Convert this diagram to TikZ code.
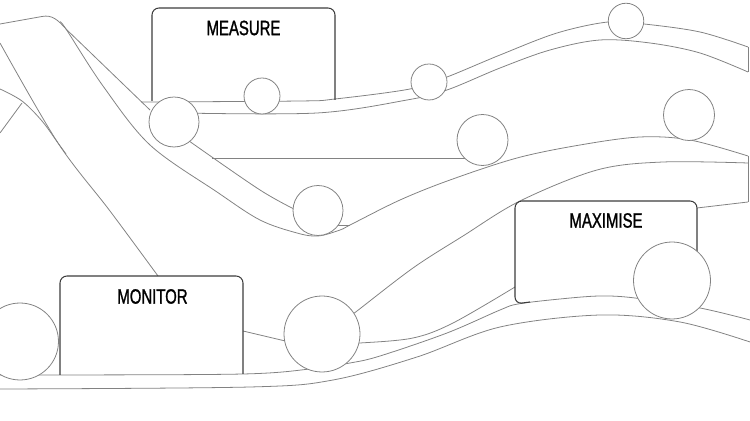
\documentclass[tikz,border=0pt]{standalone}
\usepackage{fontspec}
\newfontfamily\labelfont{Liberation Sans}[FakeStretch=0.72, FakeBold=1.2]
\definecolor{RoadGray}{RGB}{130, 130, 130}
\definecolor{FrameGray}{RGB}{60, 60, 60}

\begin{document}
\begin{tikzpicture}[x=0.02cm, y=-0.02cm,
    road/.style={draw=RoadGray, line width=0.45pt},
    smoothroad/.style={road, smooth, tension=0.55},
    frame/.style={draw=FrameGray, line width=0.6pt, rounded corners=0.14cm},
    ball/.style={circle, draw=RoadGray, line width=0.45pt, fill=white, inner sep=0pt},
    tag/.style={font=\labelfont\fontsize{11.8}{13}\selectfont, text=black, inner sep=0pt}]
    \useasboundingbox (0,0) rectangle (750,421);
    \clip (0,0) rectangle (750,421);

    % strokes on the left
    \draw[smoothroad] plot coordinates {(0,43) (58,143) (110,211) (158,276)};
    \draw[smoothroad] plot coordinates {(0,89) (22,101) (42,121) (58,143) (66,154)};
    \draw[road] (0,133) -- (22,103);

    % top ribbon
    \draw[road] (0,24) -- (42,16.5) .. controls (52,14.5) and (58,20) .. (66,29) -- (150,110);
    \draw[smoothroad] plot coordinates {(141,102) (300,101) (335,99) (410,89) (447,77) (500,55)
        (557,33) (608,22) (644,24) (700,32) (748,47)};
    \draw[smoothroad] plot coordinates {(180,113) (317,113) (407,100) (447,90) (500,68)
        (550,50) (600,40) (650,43) (700,53) (748,72)};
    \draw[road] (748,47) -- (748,72);

    % long ramp down to the valley and up again
    \draw[smoothroad] plot coordinates {(60,22) (66,29) (103,86) (150,145) (217,192) (260,220)
        (297,233) (318,236) (340,230) (352,224) (400,200) (450,180) (517,158) (580,145)
        (640,137) (690,140) (748,156)};
    \draw[smoothroad] plot coordinates {(182,136) (260,190) (302,213)};
    \draw[road] (212,158) -- (470,158);
    \draw[road] (325,225) -- (350,225);
    \draw[road] (748,156) -- (748,202);
    \draw[road] (697,208) -- (748,202);
    \draw[smoothroad] plot coordinates {(336,327) (357,311) (413,268) (463,236) (520,201)
        (597,170) (663,162) (748,163)};

    % lower ribbons
    \draw[road] (243,331) -- (298,344);
    \draw[smoothroad] plot coordinates {(340,343) (360,343) (413,338) (453,323) (515,287)};
    \draw[smoothroad] plot coordinates {(0,375) (60,375) (243,374) (310,369) (350,363) (380,356)
        (447,333) (500,310) (518,304) (560,299) (600,296) (635,298) (700,308) (750,320)};
    \draw[smoothroad] plot coordinates {(0,389) (250,387) (333,380) (417,357) (500,327)
        (600,315) (680,322) (750,342)};

    % frames
    \draw[frame] (152,101) -- (152,8) -- (335,8) -- (335,100);
    \draw[frame] (60,375) -- (60,276) -- (243,276) -- (243,374);
    \draw[frame] (697,270) -- (697,201) -- (515,201) -- (515,304) -- (530,302);
    \node[tag] (measure) at (243.5,28) {MEASURE};
    \node[tag] (monitor) at (152.5,296.5) {MONITOR};
    \node[tag] (maximise) at (606,220.5) {MAXIMISE};

    % balls
    \node[ball, minimum size=1cm] (b1) at (174,122) {};
    \node[ball, minimum size=0.72cm] (b2) at (262,96) {};
    \node[ball, minimum size=0.72cm] (b3) at (429,82) {};
    \node[ball, minimum size=0.71cm] (b4) at (626,21) {};
    \node[ball, minimum size=1.02cm] (b5) at (482.5,140) {};
    \node[ball, minimum size=1.02cm] (b6) at (689,115) {};
    \node[ball, minimum size=1cm] (b7) at (318,210.5) {};
    \node[ball, minimum size=1.52cm] (b8) at (322,334) {};
    \node[ball, minimum size=1.54cm] (b9) at (672,280.5) {};
    \node[ball, minimum size=1.54cm] (b10) at (20,341.5) {};
\end{tikzpicture}
\end{document}
